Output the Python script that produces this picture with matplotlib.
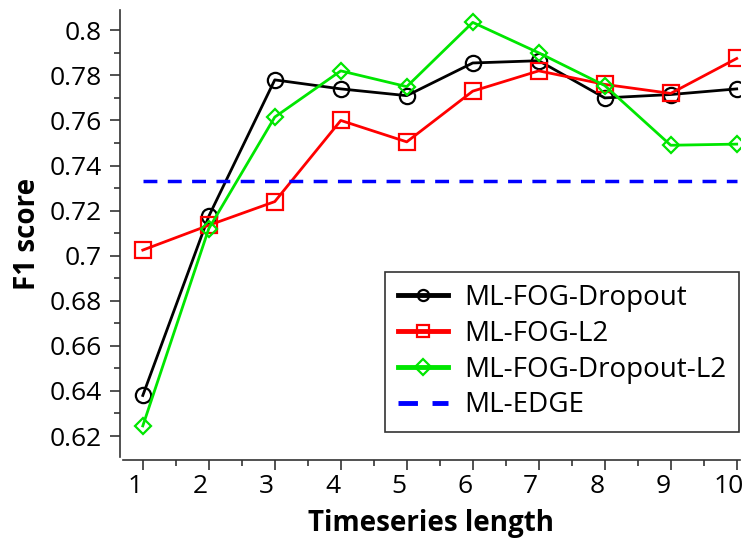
import matplotlib.pyplot as plt
import matplotlib.transforms as mtransforms
from matplotlib.ticker import MultipleLocator

plt.rcParams['font.family'] = ['Open Sans', 'DejaVu Sans']

# data
lengths = [1, 2, 3, 4, 5, 6, 7, 8, 9, 10]
dropout = [0.638, 0.7175, 0.778, 0.774, 0.771, 0.7855, 0.7865, 0.770, 0.7715, 0.774]
l2 = [0.7025, 0.7135, 0.724, 0.760, 0.7505, 0.773, 0.782, 0.776, 0.772, 0.7875]
dropout_l2 = [0.6245, 0.712, 0.7615, 0.782, 0.775, 0.8035, 0.790, 0.7755, 0.749, 0.7495]
edge = 0.733

fig = plt.figure(figsize=(7.48, 5.38), dpi=100)
ax = fig.add_axes([123 / 748, 1 - 457 / 538, (740 - 123) / 748, (457 - 10) / 538])

ax.plot(lengths, dropout, color='black', lw=2, marker='o', ms=11,
        mfc='none', mew=1.6, label='ML-FOG-Dropout')
ax.plot(lengths, l2, color='red', lw=2, marker='s', ms=12,
        mfc='none', mew=1.6, label='ML-FOG-L2')
ax.plot(lengths, dropout_l2, color='#00e600', lw=2, marker='D', ms=8,
        mfc='none', mew=1.6, label='ML-FOG-Dropout-L2')
ax.plot([lengths[0], lengths[-1]], [edge, edge], color='blue', lw=2.5,
        ls=(0, (4, 3)), label='ML-EDGE')

ax.set_xlim(0.7, 10.05)
ax.set_ylim(0.6107, 0.809)
ax.set_xticks(lengths)
ax.xaxis.set_minor_locator(MultipleLocator(0.5))
ax.yaxis.set_major_locator(MultipleLocator(0.02))
ax.yaxis.set_minor_locator(MultipleLocator(0.01))
ax.set_yticklabels([f'{v:g}' for v in ax.get_yticks()])

for side in ['top', 'right']:
    ax.spines[side].set_visible(False)
ax.spines['left'].set_position(('outward', 2))
ax.spines['bottom'].set_position(('outward', 2))
for side in ['left', 'bottom']:
    ax.spines[side].set_color('#333333')
    ax.spines[side].set_linewidth(1.2)

ax.tick_params(which='major', length=7, width=1.2, color='#333333', labelsize=19)
ax.tick_params(axis='y', which='major', pad=6)
ax.tick_params(which='minor', length=4, width=1.2, color='#333333')

# labels on the x axis sit a little left of their ticks in the reference
shift = mtransforms.ScaledTranslation(-8 / 100, 0, fig.dpi_scale_trans)
for lab in ax.get_xticklabels():
    lab.set_transform(lab.get_transform() + shift)

ax.set_xlabel('Timeseries length', fontsize=20, fontweight='bold', labelpad=7)
ax.set_ylabel('F1 score', fontsize=20, fontweight='bold', labelpad=6)

leg = ax.legend(loc='lower right', fontsize=20, fancybox=False, framealpha=1,
                edgecolor='#333333', handlelength=1.8, handletextpad=0.6,
                borderpad=0.45, labelspacing=0.28, borderaxespad=0,
                bbox_to_anchor=(739 / 748, 1 - 432 / 538),
                bbox_transform=fig.transFigure)
for line in leg.get_lines():
    line.set_linewidth(3.5)
    line.set_markersize(8)
leg.get_frame().set_linewidth(1.2)

fig.savefig('out.png', dpi=100)
